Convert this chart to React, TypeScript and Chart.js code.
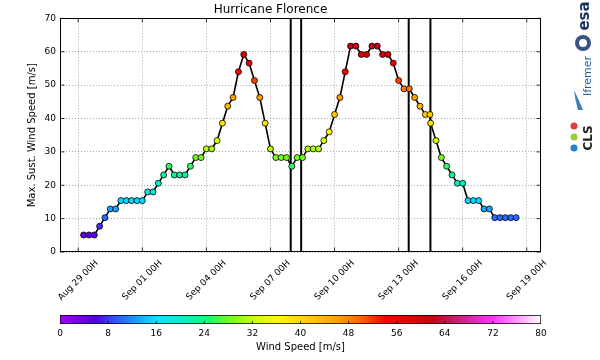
import React, { useEffect, useRef } from 'react';
import { Chart, registerables } from 'chart.js';

Chart.register(...registerables);

// ---------------- data ----------------
const CHART_TITLE = 'Hurricane Florence';
const Y_TITLE = 'Max. Sust. Wind Speed [m/s]';
const CB_TITLE = 'Wind Speed [m/s]';

const TIMES = [
  '2018-08-29T06:00Z', '2018-08-29T12:00Z', '2018-08-29T18:00Z',
  '2018-08-30T00:00Z', '2018-08-30T06:00Z', '2018-08-30T12:00Z', '2018-08-30T18:00Z',
  '2018-08-31T00:00Z', '2018-08-31T06:00Z', '2018-08-31T12:00Z', '2018-08-31T18:00Z',
  '2018-09-01T00:00Z', '2018-09-01T06:00Z', '2018-09-01T12:00Z', '2018-09-01T18:00Z',
  '2018-09-02T00:00Z', '2018-09-02T06:00Z', '2018-09-02T12:00Z', '2018-09-02T18:00Z',
  '2018-09-03T00:00Z', '2018-09-03T06:00Z', '2018-09-03T12:00Z', '2018-09-03T18:00Z',
  '2018-09-04T00:00Z', '2018-09-04T06:00Z', '2018-09-04T12:00Z', '2018-09-04T18:00Z',
  '2018-09-05T00:00Z', '2018-09-05T06:00Z', '2018-09-05T12:00Z', '2018-09-05T18:00Z',
  '2018-09-06T00:00Z', '2018-09-06T06:00Z', '2018-09-06T12:00Z', '2018-09-06T18:00Z',
  '2018-09-07T00:00Z', '2018-09-07T06:00Z', '2018-09-07T12:00Z', '2018-09-07T18:00Z',
  '2018-09-08T00:00Z', '2018-09-08T06:00Z', '2018-09-08T12:00Z', '2018-09-08T18:00Z',
  '2018-09-09T00:00Z', '2018-09-09T06:00Z', '2018-09-09T12:00Z', '2018-09-09T18:00Z',
  '2018-09-10T00:00Z', '2018-09-10T06:00Z', '2018-09-10T12:00Z', '2018-09-10T18:00Z',
  '2018-09-11T00:00Z', '2018-09-11T06:00Z', '2018-09-11T12:00Z', '2018-09-11T18:00Z',
  '2018-09-12T00:00Z', '2018-09-12T06:00Z', '2018-09-12T12:00Z', '2018-09-12T18:00Z',
  '2018-09-13T00:00Z', '2018-09-13T06:00Z', '2018-09-13T12:00Z', '2018-09-13T18:00Z',
  '2018-09-14T00:00Z', '2018-09-14T06:00Z', '2018-09-14T11:15Z', '2018-09-14T12:00Z', '2018-09-14T18:00Z',
  '2018-09-15T00:00Z', '2018-09-15T06:00Z', '2018-09-15T12:00Z', '2018-09-15T18:00Z',
  '2018-09-16T00:00Z', '2018-09-16T06:00Z', '2018-09-16T12:00Z', '2018-09-16T18:00Z',
  '2018-09-17T00:00Z', '2018-09-17T06:00Z', '2018-09-17T12:00Z', '2018-09-17T18:00Z',
  '2018-09-18T00:00Z', '2018-09-18T06:00Z', '2018-09-18T12:00Z',
];

const WIND_SPEED = [
  5.1, 5.1, 5.1,
  7.7, 10.3, 12.9, 12.9,
  15.4, 15.4, 15.4, 15.4,
  15.4, 18.0, 18.0, 20.6,
  23.1, 25.7, 23.1, 23.1,
  23.1, 25.7, 28.3, 28.3,
  30.9, 30.9, 33.4, 38.6,
  43.7, 46.3, 54.0, 59.2,
  56.6, 51.4, 46.3, 38.6,
  30.9, 28.3, 28.3, 28.3,
  25.7, 28.3, 28.3, 30.9,
  30.9, 30.9, 33.4, 36.0,
  41.2, 46.3, 54.0, 61.7,
  61.7, 59.2, 59.2, 61.7,
  61.7, 59.2, 59.2, 56.6,
  51.4, 48.9, 48.9, 46.3,
  43.7, 41.2, 41.2, 38.6, 33.4,
  28.3, 25.7, 23.1, 20.6,
  20.6, 15.4, 15.4, 15.4,
  12.9, 12.9, 10.3, 10.3,
  10.3, 10.3, 10.3,
];

const MARKER_TIMES = ['2018-09-07T22:45Z', '2018-09-08T10:30Z', '2018-09-13T11:20Z', '2018-09-14T11:45Z'];

const X_MIN = '2018-08-28T03:30Z';
const X_MAX = '2018-09-19T16:00Z';
const X_TICK_TIMES = [
  '2018-08-29T00:00Z', '2018-09-01T00:00Z', '2018-09-04T00:00Z', '2018-09-07T00:00Z',
  '2018-09-10T00:00Z', '2018-09-13T00:00Z', '2018-09-16T00:00Z', '2018-09-19T00:00Z',
];
const X_TICK_LABELS = [
  'Aug 29 00H', 'Sep 01 00H', 'Sep 04 00H', 'Sep 07 00H',
  'Sep 10 00H', 'Sep 13 00H', 'Sep 16 00H', 'Sep 19 00H',
];
const Y_MIN = 0;
const Y_MAX = 70;
const Y_STEP = 10;

const CB_MIN = 0;
const CB_MAX = 80;
const CB_STEP = 8;

// colormap stops: value, r, g, b
const CMAP_STOPS: number[][] = [
  [0, 160, 0, 255],
  [6, 80, 0, 230],
  [9, 50, 80, 255],
  [16, 0, 230, 255],
  [20, 0, 240, 200],
  [24, 0, 255, 130],
  [28, 110, 255, 30],
  [32, 200, 255, 0],
  [36, 255, 250, 0],
  [40, 255, 215, 0],
  [46, 255, 160, 0],
  [50, 255, 100, 0],
  [54, 255, 0, 0],
  [58, 230, 0, 0],
  [62, 200, 0, 20],
  [66, 200, 30, 120],
  [72, 255, 50, 255],
  [76, 255, 150, 255],
  [80, 255, 255, 255],
];

function cmapColor(v: number): string {
  const t = Math.max(CB_MIN, Math.min(CB_MAX, v));
  for (let i = 1; i < CMAP_STOPS.length; i++) {
    const [v0, r0, g0, b0] = CMAP_STOPS[i - 1];
    const [v1, r1, g1, b1] = CMAP_STOPS[i];
    if (t <= v1) {
      const f = (t - v0) / (v1 - v0);
      return `rgb(${Math.round(r0 + (r1 - r0) * f)},${Math.round(g0 + (g1 - g0) * f)},${Math.round(b0 + (b1 - b0) * f)})`;
    }
  }
  return 'rgb(255,255,255)';
}

const FONT = 'DejaVu Sans';
const MAIN_H = 308;
const CB_H = 52;

export default function App() {
  const mainRef = useRef<HTMLCanvasElement | null>(null);
  const cbRef = useRef<HTMLCanvasElement | null>(null);

  useEffect(() => {
    document.body.style.margin = '0';
    Chart.defaults.font.family = FONT;
    Chart.defaults.color = '#000';

    const tickMs = X_TICK_TIMES.map((t) => Date.parse(t));
    const markerMs = MARKER_TIMES.map((t) => Date.parse(t));

    const overlay = {
      id: 'overlay',
      beforeDatasetsDraw(chart: any) {
        const { ctx, chartArea, scales } = chart;
        ctx.save();
        ctx.strokeStyle = '#000';
        ctx.lineWidth = 2;
        markerMs.forEach((m) => {
          const x = scales.x.getPixelForValue(m);
          ctx.beginPath();
          ctx.moveTo(x, chartArea.top);
          ctx.lineTo(x, chartArea.bottom);
          ctx.stroke();
        });
        ctx.restore();
      },
      afterDraw(chart: any) {
        const { ctx, chartArea, scales } = chart;
        const l = Math.round(chartArea.left) + 0.5;
        const r = Math.round(chartArea.right) - 0.5;
        const t = Math.round(chartArea.top) + 0.5;
        const b = Math.round(chartArea.bottom) - 0.5;
        ctx.save();
        ctx.strokeStyle = '#000';
        ctx.lineWidth = 1;
        ctx.strokeRect(l, t, r - l, b - t);
        ctx.lineWidth = 0.8;
        scales.y.ticks.forEach((tk: any) => {
          const y = scales.y.getPixelForValue(tk.value);
          ctx.beginPath();
          ctx.moveTo(l, y); ctx.lineTo(l + 4, y);
          ctx.moveTo(r, y); ctx.lineTo(r - 4, y);
          ctx.stroke();
        });
        scales.x.ticks.forEach((tk: any) => {
          const x = scales.x.getPixelForValue(tk.value);
          ctx.beginPath();
          ctx.moveTo(x, b); ctx.lineTo(x, b - 4);
          ctx.moveTo(x, t); ctx.lineTo(x, t + 4);
          ctx.stroke();
        });
        ctx.restore();

        // x tick labels, rotated 45 degrees and centred on their ticks
        ctx.save();
        ctx.fillStyle = '#000';
        ctx.font = `9px ${FONT}`;
        ctx.textAlign = 'center';
        ctx.textBaseline = 'middle';
        tickMs.forEach((v, i) => {
          const label = X_TICK_LABELS[i];
          const w = ctx.measureText(label).width;
          const x = scales.x.getPixelForValue(v);
          const cy = chartArea.bottom + 6 + (w + 10.5) * 0.3536;
          ctx.save();
          ctx.translate(x, cy);
          ctx.rotate(-Math.PI / 4);
          ctx.fillText(label, 0, 0);
          ctx.restore();
        });
        ctx.restore();

        // partner logos (approximation)
        ctx.save();
        ctx.fillStyle = '#1d3461';
        ctx.font = `bold 15px ${FONT}`;
        ctx.textAlign = 'center';
        ctx.textBaseline = 'middle';
        ctx.save();
        ctx.translate(585, 16);
        ctx.rotate(-Math.PI / 2);
        ctx.fillText('esa', 0, 0);
        ctx.restore();
        ctx.beginPath();
        ctx.arc(583, 43, 8, 0, Math.PI * 2);
        ctx.fillStyle = '#3b5286';
        ctx.fill();
        ctx.beginPath();
        ctx.arc(583, 43, 4, 0, Math.PI * 2);
        ctx.fillStyle = '#ffffff';
        ctx.fill();
        ctx.fillStyle = '#1f5ea8';
        ctx.font = `11px ${FONT}`;
        ctx.save();
        ctx.translate(588, 76);
        ctx.rotate(-Math.PI / 2);
        ctx.fillText('Ifremer', 0, 0);
        ctx.restore();
        ctx.beginPath();
        ctx.moveTo(574, 90);
        ctx.quadraticCurveTo(579, 100, 583, 110);
        ctx.lineTo(578, 110);
        ctx.quadraticCurveTo(575, 100, 574, 90);
        ctx.fillStyle = '#3f7fbf';
        ctx.fill();
        ctx.fillStyle = '#222';
        ctx.font = `bold 12px ${FONT}`;
        ctx.save();
        ctx.translate(589, 138);
        ctx.rotate(-Math.PI / 2);
        ctx.fillText('CLS', 0, 0);
        ctx.restore();
        [['#e83a3a', 126], ['#9acd32', 137], ['#2a7fd4', 148]].forEach(([c, y]) => {
          ctx.beginPath();
          ctx.arc(574, y as number, 3.5, 0, Math.PI * 2);
          ctx.fillStyle = c as string;
          ctx.fill();
        });
        ctx.restore();
      },
    };

    const gridOpts = { color: 'rgba(0,0,0,0.55)', lineWidth: 0.6, drawTicks: false };
    const borderOpts = { display: false, dash: [1, 2] };

    const main = new Chart(mainRef.current as HTMLCanvasElement, {
      type: 'line',
      data: {
        datasets: [
          {
            data: TIMES.map((t, i) => ({ x: Date.parse(t), y: WIND_SPEED[i] })),
            borderColor: '#000',
            borderWidth: 1.6,
            pointBackgroundColor: WIND_SPEED.map(cmapColor),
            pointBorderColor: '#000',
            pointBorderWidth: 0.8,
            pointRadius: 3,
            tension: 0,
          },
        ],
      },
      options: {
        responsive: false,
        animation: false,
        events: [],
        layout: { padding: { left: 0, right: 59, top: 0, bottom: 0 } },
        plugins: {
          legend: { display: false },
          tooltip: { enabled: false },
          title: {
            display: true,
            text: CHART_TITLE,
            color: '#000',
            font: { size: 12, weight: 'normal', family: FONT },
            padding: { top: 3, bottom: 1 },
          },
        },
        scales: {
          x: {
            type: 'linear',
            min: Date.parse(X_MIN),
            max: Date.parse(X_MAX),
            afterBuildTicks: (s: any) => {
              s.ticks = tickMs.map((v) => ({ value: v }));
            },
            afterFit: (s: any) => {
              s.height = MAIN_H - 252;
            },
            ticks: {
              display: false,
              autoSkip: false,
              callback: (v: any) => {
                const i = tickMs.indexOf(Number(v));
                return i >= 0 ? X_TICK_LABELS[i] : '';
              },
            },
            grid: gridOpts,
            border: borderOpts,
          },
          y: {
            min: Y_MIN,
            max: Y_MAX,
            afterFit: (s: any) => {
              s.width = 60;
            },
            ticks: { stepSize: Y_STEP, padding: 4, color: '#000', font: { size: 9 } },
            title: {
              display: true,
              text: Y_TITLE,
              color: '#000',
              font: { size: 10 },
              padding: { top: 26, bottom: 0 },
            },
            grid: gridOpts,
            border: borderOpts,
          },
        },
      },
      plugins: [overlay],
    } as any);

    const cbTicks = {
      id: 'cbTicks',
      afterDatasetsDraw(chart: any) {
        const { ctx, chartArea, scales } = chart;
        ctx.save();
        ctx.strokeStyle = '#000';
        ctx.lineWidth = 0.8;
        scales.x.ticks.forEach((tk: any) => {
          if (tk.value <= CB_MIN || tk.value >= CB_MAX) return;
          const x = scales.x.getPixelForValue(tk.value);
          ctx.beginPath();
          ctx.moveTo(x, chartArea.bottom);
          ctx.lineTo(x, chartArea.bottom - 3);
          ctx.stroke();
        });
        ctx.restore();
      },
    };

    const cb = new Chart(cbRef.current as HTMLCanvasElement, {
      type: 'bar',
      data: {
        labels: [''],
        datasets: [
          {
            data: [[CB_MIN, CB_MAX]],
            backgroundColor: (c: any) => {
              const chart = c.chart;
              const area = chart.chartArea;
              if (!area) return '#888';
              const g = chart.ctx.createLinearGradient(area.left, 0, area.right, 0);
              CMAP_STOPS.forEach((s) => {
                g.addColorStop((s[0] - CB_MIN) / (CB_MAX - CB_MIN), `rgb(${s[1]},${s[2]},${s[3]})`);
              });
              return g;
            },
            borderColor: '#000',
            borderWidth: 1,
            borderSkipped: false,
            barPercentage: 1,
            categoryPercentage: 1,
          },
        ],
      },
      options: {
        indexAxis: 'y',
        responsive: false,
        animation: false,
        events: [],
        layout: { padding: { left: 60, right: 59, top: 7, bottom: 0 } },
        plugins: { legend: { display: false }, tooltip: { enabled: false } },
        scales: {
          x: {
            type: 'linear',
            min: CB_MIN,
            max: CB_MAX,
            afterFit: (s: any) => {
              s.height = CB_H - 16;
            },
            ticks: { stepSize: CB_STEP, color: '#000', font: { size: 9 }, padding: 4 },
            grid: { display: false, drawTicks: false },
            border: { display: false },
            title: {
              display: true,
              text: CB_TITLE,
              color: '#000',
              font: { size: 10 },
              padding: { top: 0, bottom: 7 },
            },
          },
          y: { display: false },
        },
      },
      plugins: [cbTicks],
    } as any);

    return () => {
      main.destroy();
      cb.destroy();
    };
  }, []);

  return (
    <div style={{ position: 'relative', width: 600, height: 360, background: '#fff' }}>
      <canvas ref={mainRef} width={600} height={MAIN_H} style={{ display: 'block' }} />
      <canvas ref={cbRef} width={600} height={CB_H} style={{ display: 'block' }} />
    </div>
  );
}
